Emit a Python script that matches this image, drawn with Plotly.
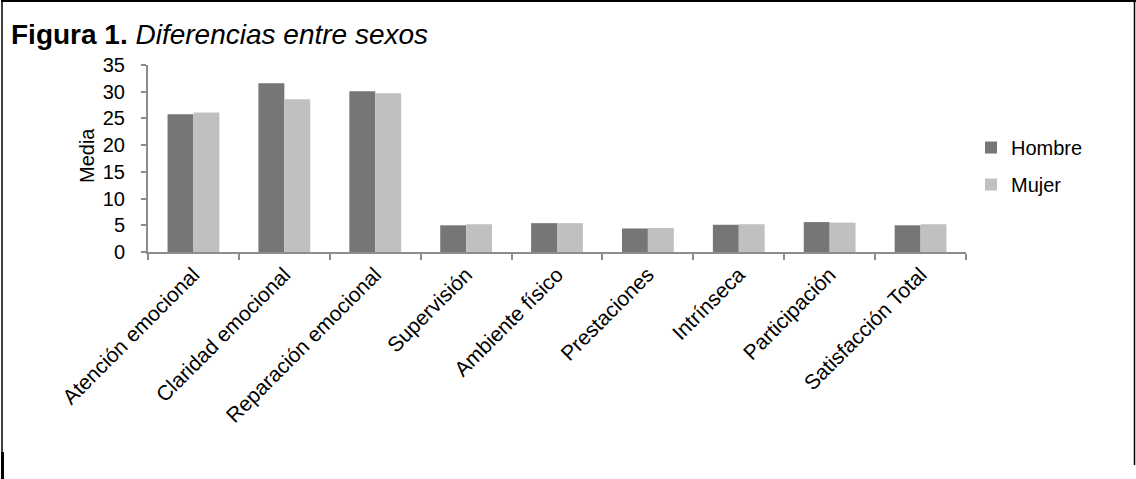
import plotly.graph_objects as go

categories = ["Atención emocional", "Claridad emocional", "Reparación emocional",
              "Supervisión", "Ambiente físico", "Prestaciones", "Intrínseca",
              "Participación", "Satisfacción Total"]
hombre = [25.8, 31.6, 30.1, 5.0, 5.4, 4.4, 5.1, 5.6, 5.0]
mujer = [26.1, 28.6, 29.7, 5.2, 5.4, 4.5, 5.2, 5.5, 5.2]
y_ticks = [0, 5, 10, 15, 20, 25, 30, 35]

W, H = 1136, 479
L, R, T, B = 148, 170, 65, 227
PW, PH = W - L - R, H - T - B

def px(x):
    return (x - L) / PW

def py(y):
    return (H - B - y) / PH

FONT = "Liberation Sans, Arial, sans-serif"
AX = "#8c8c8c"

fig = go.Figure()
fig.add_trace(go.Bar(x=categories, y=hombre, name="Hombre", marker_color="#767676",
                     marker_line_width=0, legendgroup="h"))
fig.add_trace(go.Bar(x=categories, y=mujer, name="Mujer", marker_color="#c0c0c0",
                     marker_line_width=0, legendgroup="m"))

fig.update_layout(
    width=W, height=H,
    margin=dict(l=L, r=R, t=T, b=B, pad=0),
    paper_bgcolor="white", plot_bgcolor="white",
    barmode="group", bargap=0.43, bargroupgap=0,
    font=dict(family=FONT, size=20, color="black"),
    showlegend=True,
    legend=dict(x=px(971), y=py(128), xanchor="left", yanchor="top",
                font=dict(size=20), tracegroupgap=8, traceorder="grouped",
                bgcolor="rgba(0,0,0,0)", itemwidth=30),
    xaxis=dict(showline=True, linecolor=AX, linewidth=2, ticks="outside",
               tickson="boundaries", ticklen=6, tickcolor=AX, tickwidth=2,
               tickangle=-45, showgrid=False, zeroline=False,
               tickfont=dict(size=21, color="black")),
    yaxis=dict(range=[0, 35], tickvals=y_ticks, showline=True, linecolor=AX,
               linewidth=2, ticks="outside", ticklen=5, tickcolor=AX, tickwidth=2,
               showgrid=False, zeroline=False, ticklabelstandoff=12,
               tickfont=dict(size=20, color="black")),
    annotations=[
        dict(text="<b>Figura 1.</b> <i>Diferencias entre sexos</i>", xref="paper", yref="paper",
             x=px(9), y=py(34), xanchor="left", yanchor="middle", showarrow=False,
             font=dict(size=28, color="black", family=FONT)),
        dict(text="Media", xref="paper", yref="paper", x=px(87), y=py(156),
             xanchor="center", yanchor="middle", showarrow=False, textangle=-90,
             font=dict(size=20, color="black", family=FONT)),
    ],
    shapes=[
        dict(type="line", xref="paper", yref="paper", x0=px(1), x1=px(1136), y0=py(1), y1=py(1),
             line=dict(color="black", width=2)),
        dict(type="line", xref="paper", yref="paper", x0=px(2), x1=px(2), y0=py(0), y1=py(452),
             line=dict(color="black", width=1.5)),
        dict(type="line", xref="paper", yref="paper", x0=px(2.5), x1=px(2.5), y0=py(452), y1=py(479),
             line=dict(color="black", width=3)),
        dict(type="line", xref="paper", yref="paper", x0=px(1134.5), x1=px(1134.5), y0=py(0), y1=py(465),
             line=dict(color="black", width=1.5)),
    ],
)

fig.write_html("out.html")
